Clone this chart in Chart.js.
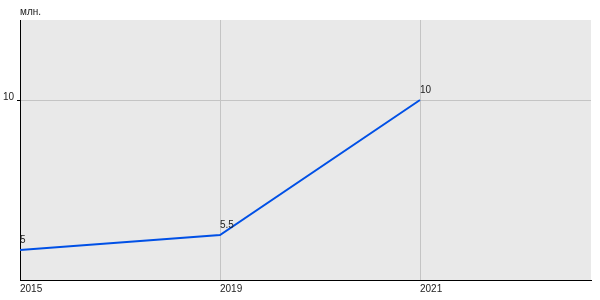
<!DOCTYPE html>
<html>
<head>
<meta charset="utf-8">
<script src="https://cdn.jsdelivr.net/npm/chart.js@4/dist/chart.umd.min.js"></script>
<style>
html,body{margin:0;padding:0;background:#fff;}
canvas{display:block;}
</style>
</head>
<body>
<canvas id="c" width="600" height="300"></canvas>
<script>
const categories = ['2015', '2019', '2021'];
const values = [5, 5.5, 10];
const yTickValues = [10];
const unitLabel = 'млн.';

const FONT = '"Liberation Sans", Arial, sans-serif';

const bgPlugin = {
  id: 'bg',
  beforeDraw(chart) {
    const {ctx, chartArea: a} = chart;
    ctx.save();
    ctx.fillStyle = '#e9e9e9';
    ctx.fillRect(a.left, a.top, a.right - a.left, a.bottom - a.top);
    ctx.restore();
  }
};

const labelPlugin = {
  id: 'labels',
  afterDatasetsDraw(chart) {
    const {ctx} = chart;
    const meta = chart.getDatasetMeta(0);
    ctx.save();
    ctx.font = '10px ' + FONT;
    ctx.fillStyle = '#222';
    ctx.textAlign = 'left';
    ctx.textBaseline = 'alphabetic';
    meta.data.forEach((pt, i) => {
      ctx.fillText(String(values[i]), pt.x, pt.y - 7);
    });
    ctx.fillText(unitLabel, chart.chartArea.left, 15);
    ctx.restore();
  }
};

new Chart(document.getElementById('c'), {
  type: 'line',
  data: {
    datasets: [{
      data: values.map((v, i) => ({x: i, y: v})),
      borderColor: '#0050e6',
      borderWidth: 2,
      pointRadius: 0,
      tension: 0,
      fill: false
    }]
  },
  options: {
    responsive: false,
    animation: false,
    layout: {padding: {top: 20, right: 9, left: 0, bottom: 0}},
    plugins: {legend: {display: false}, tooltip: {enabled: false}, title: {display: false}},
    scales: {
      x: {
        type: 'linear',
        min: 0,
        max: 2.855,
        afterBuildTicks(scale) { scale.ticks = categories.map((c, i) => ({value: i})); },
        afterFit(scale) { scale.height = 20; },
        border: {display: true, color: '#000', width: 1},
        grid: {color: '#c4c4c4', drawTicks: false, lineWidth: 1},
        ticks: {
          align: 'start',
          padding: 3,
          color: '#222',
          font: {family: FONT, size: 10},
          maxRotation: 0,
          callback: (v) => categories[v]
        }
      },
      y: {
        type: 'linear',
        min: 4,
        max: 12.667,
        afterBuildTicks(scale) { scale.ticks = yTickValues.map(v => ({value: v})); },
        afterFit(scale) { scale.width = 20; },
        border: {display: true, color: '#000', width: 1},
        grid: {color: '#c4c4c4', tickColor: '#000', tickLength: 3, lineWidth: 1},
        ticks: {
          padding: 3,
          labelOffset: -3,
          color: '#222',
          font: {family: FONT, size: 10},
          callback: (v) => String(v)
        }
      }
    }
  },
  plugins: [bgPlugin, labelPlugin]
});
</script>
</body>
</html>
